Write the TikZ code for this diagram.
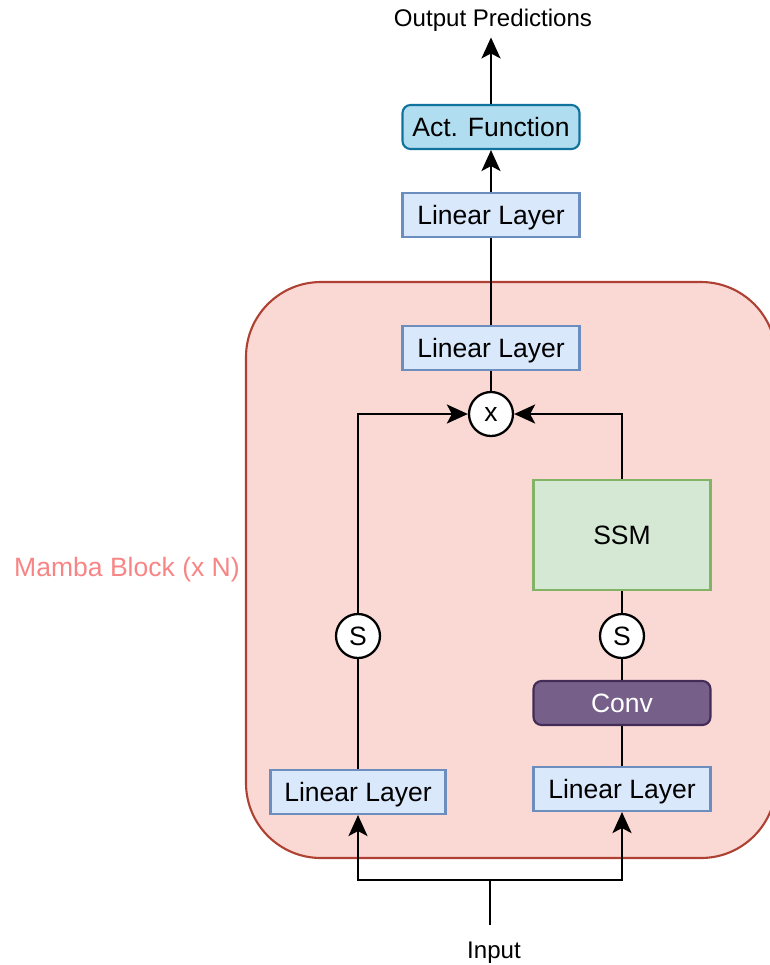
\documentclass[tikz,border=0pt]{standalone}
\usepackage{fontspec}
\setmainfont{Liberation Sans}
\usetikzlibrary{arrows.meta}

\definecolor{layerfill}{HTML}{DAE8FC}
\definecolor{layerline}{HTML}{6C8EBF}
\definecolor{actfill}{HTML}{B1DDF0}
\definecolor{actline}{HTML}{10739E}
\definecolor{ssmfill}{HTML}{D5E8D4}
\definecolor{ssmline}{HTML}{82B366}
\definecolor{convfill}{HTML}{76608A}
\definecolor{convline}{HTML}{432D57}
\definecolor{blockfill}{HTML}{FAD9D5}
\definecolor{blockline}{HTML}{AE4132}
\definecolor{blocklabel}{HTML}{F88585}

\newcommand{\boxfont}{\fontsize{15.1}{18}\selectfont}
\newcommand{\lblfont}{\fontsize{13.7}{16}\selectfont}

\tikzset{
    layer/.style={draw=layerline, fill=layerfill, line width=1.2pt, inner sep=0pt,
        minimum width=3.54cm, minimum height=0.88cm, font=\boxfont,
        text height=10.9pt, text depth=0pt},
    actbox/.style={layer, draw=actline, fill=actfill, rounded corners=0.16cm},
    ssmbox/.style={layer, draw=ssmline, fill=ssmfill, minimum height=2.2cm},
    convbox/.style={layer, draw=convline, fill=convfill, text=white, rounded corners=0.16cm},
    op/.style={circle, draw, fill=white, line width=1.3pt, inner sep=0pt,
        minimum size=0.88cm, font=\boxfont},
    wire/.style={line width=1.35pt},
    flow/.style={wire, -{Stealth[length=0.42cm, width=0.38cm, inset=0.1cm]}},
}

\begin{document}
\begin{tikzpicture}[x=0.02cm, y=-0.02cm]
    \useasboundingbox (0,0) rectangle (770,965);

    % mamba block
    \begin{scope}
        \clip (0,0) rectangle (770,965);
        \draw[draw=blockline, fill=blockfill, line width=1.2pt, rounded corners=1.5cm]
            (246,282) rectangle (776,858);
    \end{scope}
    \node[font=\boxfont, text=blocklabel] (mlabel) at (127,570) {Mamba Block (x N)};

    \node[font=\lblfont] (out) at (493,20) {Output Predictions};
    \node[actbox] (act) at (491,127) {Act. Function};
    \node[layer] (linout) at (491,215) {Linear Layer};
    \node[layer] (linmix) at (491,348) {Linear Layer};
    \node[op] (mul) at (491,414) {x};

    \node[ssmbox] (ssm) at (622,535) {SSM};
    \node[op] (sright) at (622,636) {S};
    \node[convbox] (conv) at (622,703) {Conv};
    \node[layer] (linright) at (622,789) {Linear Layer};

    \node[op] (sleft) at (358,636) {S};
    \node[layer, minimum width=3.5cm] (linleft) at (358,792) {Linear Layer};

    \node[font=\lblfont] (inp) at (494,953) {Input};
    \coordinate (split) at (490,880);
    \coordinate (inend) at (490,925);

    % connectors
    \draw[flow] (act) -- (act |- out.south);
    \draw[flow] (linout) -- (act);
    \draw[wire] (linmix) -- (linout);
    \draw[wire] (mul) -- (linmix);
    \draw[flow] (sleft) |- (mul);
    \draw[flow] (ssm) |- (mul);
    \draw[wire] (sright) -- (ssm);
    \draw[wire] (conv) -- (sright);
    \draw[wire] (linright) -- (conv);
    \draw[wire] (linleft) -- (sleft);
    \draw[wire] (inend) -- (split);
    \draw[flow] (split) -| (linleft);
    \draw[flow] (split) -| (linright);
\end{tikzpicture}
\end{document}
